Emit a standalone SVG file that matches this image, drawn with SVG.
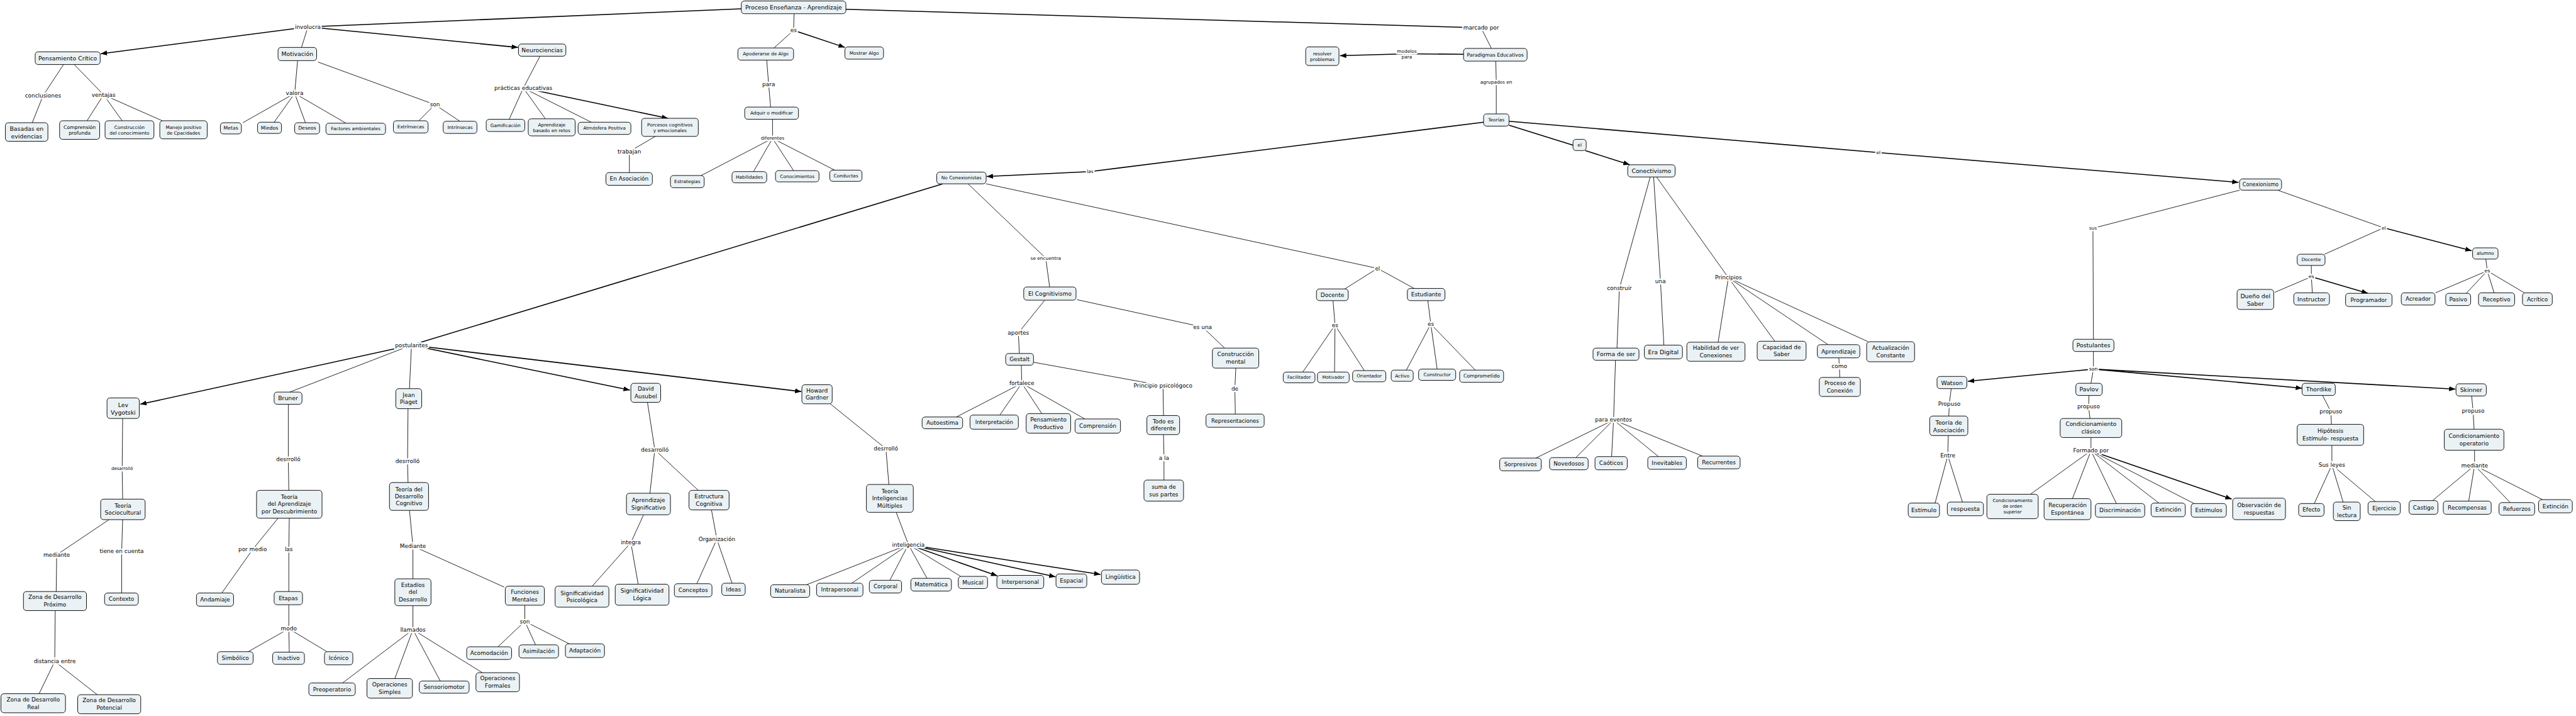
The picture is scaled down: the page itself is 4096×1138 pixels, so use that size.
<svg xmlns="http://www.w3.org/2000/svg" width="4096" height="1138" viewBox="0 0 4096 1138">
<defs>
<marker id="ah" markerUnits="userSpaceOnUse" markerWidth="13" markerHeight="10" viewBox="0 0 13 10" refX="13" refY="5" orient="auto"><path d="M0,0 L13,5 L0,10 z" fill="#000"/></marker>
<style>
.n rect{fill:#ebf2f5;stroke:#000;stroke-width:1.2}
text{font-family:"DejaVu Sans",Verdana,"Liberation Sans",sans-serif;fill:#000;text-anchor:middle;dominant-baseline:central}
tspan{dominant-baseline:central}
.l{paint-order:stroke;stroke:#fff;stroke-width:6;stroke-linejoin:round}
.c line{stroke:#000;stroke-width:1.1}
.c .k{stroke-width:2}
.c .a{marker-end:url(#ah)}
.s9{font-size:9px}.s93{font-size:9.3px}.s95{font-size:9.5px}.s10{font-size:10px}.s105{font-size:10.5px}.s11{font-size:11px}.s115{font-size:11.5px}.s12{font-size:12px}
</style>
</defs>
<rect width="4096" height="1138" fill="#fff"/>
<g transform="scale(0.777)">
<g id="connectors" class="c">
<line class="k" x1="1517" y1="18" x2="630" y2="55"/>
<line class="k a" x1="630" y1="55" x2="206" y2="110"/>
<line x1="628" y1="62" x2="617" y2="97"/>
<line class="k a" x1="630" y1="55" x2="1060" y2="97"/>
<line x1="130" y1="132" x2="88" y2="196"/>
<line x1="88" y1="196" x2="66" y2="251"/>
<line x1="152" y1="132" x2="212" y2="194"/>
<line x1="212" y1="194" x2="178" y2="247"/>
<line x1="212" y1="194" x2="250" y2="247"/>
<line x1="212" y1="194" x2="332" y2="247"/>
<line x1="609" y1="124" x2="603" y2="191"/>
<line x1="603" y1="191" x2="497" y2="251"/>
<line x1="603" y1="191" x2="561" y2="250"/>
<line x1="603" y1="191" x2="625" y2="251"/>
<line x1="603" y1="191" x2="708" y2="252"/>
<line x1="651" y1="127" x2="890" y2="214"/>
<line x1="890" y1="214" x2="857" y2="247"/>
<line x1="890" y1="214" x2="941" y2="248"/>
<line x1="1105" y1="115" x2="1071" y2="180"/>
<line x1="1071" y1="180" x2="1042" y2="244"/>
<line x1="1071" y1="180" x2="1116" y2="243"/>
<line x1="1071" y1="180" x2="1210" y2="250"/>
<line class="k a" x1="1071" y1="180" x2="1367" y2="242"/>
<line x1="1341" y1="279" x2="1288" y2="310"/>
<line x1="1288" y1="310" x2="1288" y2="353"/>
<line x1="1625" y1="28" x2="1624" y2="62"/>
<line x1="1624" y1="62" x2="1584" y2="98"/>
<line class="k a" x1="1624" y1="62" x2="1729" y2="97"/>
<line x1="1569" y1="123" x2="1573" y2="173"/>
<line x1="1573" y1="173" x2="1577" y2="219"/>
<line x1="1581" y1="244" x2="1581" y2="283"/>
<line x1="1581" y1="283" x2="1435" y2="359"/>
<line x1="1581" y1="283" x2="1542" y2="351"/>
<line x1="1581" y1="283" x2="1624" y2="349"/>
<line x1="1581" y1="283" x2="1708" y2="348"/>
<line class="k" x1="1731" y1="19" x2="3031" y2="57"/>
<line x1="3031" y1="57" x2="3052" y2="99"/>
<line class="k" x1="2995" y1="111" x2="2879" y2="110"/>
<line class="k a" x1="2879" y1="110" x2="2742" y2="114"/>
<line x1="3061" y1="125" x2="3062" y2="168"/>
<line x1="3062" y1="168" x2="3062" y2="233"/>
<line class="k" x1="3036" y1="250" x2="2231" y2="351"/>
<line class="k a" x1="2231" y1="351" x2="2019" y2="361"/>
<line class="k" x1="3088" y1="256" x2="3219" y2="297"/>
<line class="k a" x1="3244" y1="308" x2="3335" y2="337"/>
<line class="k" x1="3088" y1="248" x2="3844" y2="312"/>
<line class="k a" x1="3844" y1="312" x2="4581" y2="373"/>
<line x1="3377" y1="362" x2="3314" y2="590"/>
<line x1="3314" y1="590" x2="3309" y2="712"/>
<line x1="3384" y1="362" x2="3398" y2="575"/>
<line x1="3398" y1="575" x2="3405" y2="706"/>
<line x1="3390" y1="362" x2="3537" y2="568"/>
<line x1="3537" y1="568" x2="3516" y2="700"/>
<line x1="3537" y1="568" x2="3632" y2="698"/>
<line x1="3537" y1="568" x2="3741" y2="705"/>
<line x1="3537" y1="568" x2="3823" y2="699"/>
<line x1="3763" y1="732" x2="3764" y2="749"/>
<line x1="3764" y1="749" x2="3765" y2="772"/>
<line x1="3306" y1="737" x2="3302" y2="859"/>
<line x1="3302" y1="859" x2="3143" y2="937"/>
<line x1="3302" y1="859" x2="3225" y2="936"/>
<line x1="3302" y1="859" x2="3298" y2="934"/>
<line x1="3302" y1="859" x2="3394" y2="934"/>
<line x1="3302" y1="859" x2="3484" y2="933"/>
<line class="k" x1="1929" y1="376" x2="842" y2="706"/>
<line class="k a" x1="842" y1="706" x2="287" y2="827"/>
<line x1="842" y1="706" x2="593" y2="802"/>
<line x1="842" y1="706" x2="838" y2="795"/>
<line class="k a" x1="842" y1="706" x2="1289" y2="798"/>
<line class="k a" x1="842" y1="706" x2="1640" y2="801"/>
<line x1="251" y1="856" x2="250" y2="959"/>
<line x1="250" y1="959" x2="251" y2="1021"/>
<line x1="590" y1="827" x2="590" y2="939"/>
<line x1="590" y1="939" x2="591" y2="1003"/>
<line x1="835" y1="836" x2="834" y2="944"/>
<line x1="834" y1="944" x2="835" y2="987"/>
<line x1="1325" y1="823" x2="1340" y2="920"/>
<line x1="1340" y1="920" x2="1330" y2="1009"/>
<line x1="1340" y1="920" x2="1429" y2="1003"/>
<line x1="1699" y1="826" x2="1813" y2="918"/>
<line x1="1813" y1="918" x2="1819" y2="991"/>
<line x1="1981" y1="376" x2="2140" y2="528"/>
<line x1="2140" y1="528" x2="2148" y2="587"/>
<line x1="2138" y1="614" x2="2084" y2="681"/>
<line x1="2084" y1="681" x2="2086" y2="723"/>
<line x1="2204" y1="613" x2="2461" y2="669"/>
<line x1="2461" y1="669" x2="2506" y2="712"/>
<line x1="2090" y1="747" x2="2091" y2="784"/>
<line x1="2091" y1="784" x2="1957" y2="853"/>
<line x1="2091" y1="784" x2="2046" y2="849"/>
<line x1="2091" y1="784" x2="2132" y2="846"/>
<line x1="2091" y1="784" x2="2220" y2="857"/>
<line x1="2115" y1="741" x2="2380" y2="789"/>
<line x1="2380" y1="789" x2="2381" y2="850"/>
<line x1="2529" y1="753" x2="2527" y2="795"/>
<line x1="2527" y1="795" x2="2528" y2="847"/>
<line x1="2381" y1="889" x2="2382" y2="937"/>
<line x1="2382" y1="937" x2="2382" y2="982"/>
<line x1="2018" y1="376" x2="2819" y2="549"/>
<line x1="2819" y1="549" x2="2752" y2="591"/>
<line x1="2819" y1="549" x2="2894" y2="590"/>
<line x1="2728" y1="615" x2="2732" y2="665"/>
<line x1="2732" y1="665" x2="2666" y2="761"/>
<line x1="2732" y1="665" x2="2731" y2="761"/>
<line x1="2732" y1="665" x2="2792" y2="758"/>
<line x1="2922" y1="615" x2="2928" y2="663"/>
<line x1="2928" y1="663" x2="2878" y2="757"/>
<line x1="2928" y1="663" x2="2941" y2="755"/>
<line x1="2928" y1="663" x2="3019" y2="757"/>
<line x1="4583" y1="389" x2="4283" y2="467"/>
<line x1="4283" y1="467" x2="4284" y2="694"/>
<line x1="4661" y1="389" x2="4878" y2="466"/>
<line x1="4878" y1="466" x2="4757" y2="520"/>
<line class="k a" x1="4878" y1="466" x2="5058" y2="513"/>
<line x1="4730" y1="543" x2="4730" y2="566"/>
<line x1="4730" y1="566" x2="4655" y2="598"/>
<line x1="4730" y1="566" x2="4732" y2="599"/>
<line class="k a" x1="4730" y1="566" x2="4846" y2="600"/>
<line x1="5087" y1="530" x2="5090" y2="554"/>
<line x1="5090" y1="554" x2="4984" y2="599"/>
<line x1="5090" y1="554" x2="5047" y2="600"/>
<line x1="5090" y1="554" x2="5104" y2="599"/>
<line x1="5090" y1="554" x2="5166" y2="599"/>
<line x1="4284" y1="719" x2="4284" y2="755"/>
<line class="k a" x1="4284" y1="755" x2="4027" y2="780"/>
<line x1="4284" y1="755" x2="4279" y2="784"/>
<line class="k a" x1="4284" y1="755" x2="4711" y2="794"/>
<line class="k a" x1="4284" y1="755" x2="5025" y2="796"/>
<line x1="3993" y1="795" x2="3989" y2="826"/>
<line x1="3989" y1="826" x2="3988" y2="851"/>
<line x1="4275" y1="809" x2="4274" y2="832"/>
<line x1="4274" y1="832" x2="4277" y2="856"/>
<line x1="4753" y1="809" x2="4770" y2="842"/>
<line x1="4770" y1="842" x2="4771" y2="868"/>
<line x1="5058" y1="810" x2="5061" y2="841"/>
<line x1="5061" y1="841" x2="5063" y2="878"/>
<line x1="3987" y1="891" x2="3986" y2="932"/>
<line x1="3986" y1="932" x2="3960" y2="1029"/>
<line x1="3986" y1="932" x2="4016" y2="1027"/>
<line x1="4279" y1="895" x2="4279" y2="922"/>
<line x1="4279" y1="922" x2="4155" y2="1011"/>
<line x1="4279" y1="922" x2="4241" y2="1020"/>
<line x1="4279" y1="922" x2="4331" y2="1030"/>
<line x1="4279" y1="922" x2="4418" y2="1029"/>
<line x1="4279" y1="922" x2="4490" y2="1030"/>
<line class="k a" x1="4279" y1="922" x2="4567" y2="1021"/>
<line x1="4772" y1="911" x2="4772" y2="951"/>
<line x1="4772" y1="951" x2="4736" y2="1030"/>
<line x1="4772" y1="951" x2="4795" y2="1027"/>
<line x1="4772" y1="951" x2="4861" y2="1026"/>
<line x1="5064" y1="921" x2="5064" y2="952"/>
<line x1="5064" y1="952" x2="4978" y2="1024"/>
<line x1="5064" y1="952" x2="5052" y2="1025"/>
<line x1="5064" y1="952" x2="5137" y2="1028"/>
<line x1="5064" y1="952" x2="5203" y2="1022"/>
<line x1="223" y1="1063" x2="116" y2="1135"/>
<line x1="116" y1="1135" x2="115" y2="1210"/>
<line x1="251" y1="1063" x2="249" y2="1127"/>
<line x1="249" y1="1127" x2="249" y2="1213"/>
<line x1="113" y1="1249" x2="112" y2="1353"/>
<line x1="112" y1="1353" x2="80" y2="1419"/>
<line x1="112" y1="1353" x2="199" y2="1421"/>
<line x1="569" y1="1060" x2="517" y2="1124"/>
<line x1="517" y1="1124" x2="454" y2="1213"/>
<line x1="592" y1="1060" x2="591" y2="1124"/>
<line x1="591" y1="1124" x2="591" y2="1210"/>
<line x1="591" y1="1237" x2="591" y2="1286"/>
<line x1="591" y1="1286" x2="508" y2="1333"/>
<line x1="591" y1="1286" x2="592" y2="1334"/>
<line x1="591" y1="1286" x2="669" y2="1333"/>
<line x1="838" y1="1044" x2="845" y2="1117"/>
<line x1="845" y1="1117" x2="845" y2="1184"/>
<line x1="845" y1="1117" x2="1032" y2="1201"/>
<line x1="845" y1="1239" x2="845" y2="1288"/>
<line x1="845" y1="1288" x2="701" y2="1397"/>
<line x1="845" y1="1288" x2="808" y2="1388"/>
<line x1="845" y1="1288" x2="901" y2="1393"/>
<line x1="845" y1="1288" x2="987" y2="1376"/>
<line x1="1074" y1="1238" x2="1074" y2="1271"/>
<line x1="1074" y1="1271" x2="1019" y2="1323"/>
<line x1="1074" y1="1271" x2="1096" y2="1319"/>
<line x1="1074" y1="1271" x2="1165" y2="1317"/>
<line x1="1317" y1="1053" x2="1291" y2="1110"/>
<line x1="1291" y1="1110" x2="1212" y2="1199"/>
<line x1="1291" y1="1110" x2="1306" y2="1195"/>
<line x1="1456" y1="1043" x2="1467" y2="1103"/>
<line x1="1467" y1="1103" x2="1426" y2="1194"/>
<line x1="1467" y1="1103" x2="1498" y2="1193"/>
<line x1="1834" y1="1048" x2="1859" y2="1114"/>
<line x1="1859" y1="1114" x2="1651" y2="1196"/>
<line x1="1859" y1="1114" x2="1743" y2="1193"/>
<line x1="1859" y1="1114" x2="1821" y2="1187"/>
<line x1="1859" y1="1114" x2="1897" y2="1183"/>
<line x1="1859" y1="1114" x2="1966" y2="1179"/>
<line class="k a" x1="1859" y1="1114" x2="2041" y2="1178"/>
<line class="k a" x1="1859" y1="1114" x2="2160" y2="1180"/>
<line class="k a" x1="1859" y1="1114" x2="2252" y2="1175"/>
</g>
<g id="link-labels">
<text class="l s115" x="630" y="55">involucra</text>
<text class="l s115" x="1624" y="62">es</text>
<text class="l s115" x="3031" y="57">marcado por</text>
<text class="l s115" x="88" y="196">conclusiones</text>
<text class="l s115" x="212" y="194">ventajas</text>
<text class="l s115" x="603" y="191">valora</text>
<text class="l s115" x="890" y="214">son</text>
<text class="l s115" x="1071" y="180">prácticas educativas</text>
<text class="l s115" x="1288" y="310">trabajan</text>
<text class="l s115" x="1573" y="173">para</text>
<text class="l s95" x="1581" y="283">diferentes</text>
<text class="l s95" x="2231" y="351">las</text>
<text class="l s95" x="2879" y="110"><tspan x="2879" y="104">modelos</tspan><tspan x="2879" y="116">para</tspan></text>
<text class="l s95" x="3062" y="168">agrupados en</text>
<text class="l s95" x="3844" y="312">el</text>
<text class="l s95" x="4283" y="467">sus</text>
<text class="l s95" x="4878" y="466">el</text>
<text class="l s115" x="842" y="706">postulantes</text>
<text class="l s9" x="250" y="959">desarrolló</text>
<text class="l s115" x="590" y="939">desrrolló</text>
<text class="l s115" x="834" y="944">desrrolló</text>
<text class="l s115" x="1340" y="920">desarrolló</text>
<text class="l s115" x="1813" y="918">desrrolló</text>
<text class="l s95" x="2140" y="528">se encuentra</text>
<text class="l s115" x="2084" y="681">aportes</text>
<text class="l s115" x="2461" y="669">es una</text>
<text class="l s115" x="2091" y="784">fortalece</text>
<text class="l s115" x="2380" y="789">Principio psicológoco</text>
<text class="l s115" x="2527" y="795">de</text>
<text class="l s115" x="2382" y="937">a la</text>
<text class="l s11" x="2819" y="549">el</text>
<text class="l s115" x="2732" y="665">es</text>
<text class="l s115" x="2928" y="663">es</text>
<text class="l s115" x="3314" y="590">construir</text>
<text class="l s115" x="3398" y="575">una</text>
<text class="l s115" x="3537" y="568">Principios</text>
<text class="l s115" x="3764" y="749">como</text>
<text class="l s115" x="3302" y="859">para eventos</text>
<text class="l s10" x="4730" y="566">es</text>
<text class="l s10" x="5090" y="554">es</text>
<text class="l s10" x="4284" y="755">son</text>
<text class="l s115" x="3989" y="826">Propuso</text>
<text class="l s115" x="4274" y="832">propuso</text>
<text class="l s115" x="4770" y="842">propuso</text>
<text class="l s115" x="5061" y="841">propuso</text>
<text class="l s115" x="3986" y="932">Entre</text>
<text class="l s115" x="4279" y="922">Formado por</text>
<text class="l s115" x="4772" y="951">Sus leyes</text>
<text class="l s115" x="5064" y="952">mediante</text>
<text class="l s115" x="116" y="1135">mediante</text>
<text class="l s115" x="249" y="1127">tiene en cuenta</text>
<text class="l s115" x="517" y="1124">por medio</text>
<text class="l s115" x="591" y="1124">las</text>
<text class="l s115" x="845" y="1117">Mediante</text>
<text class="l s115" x="1291" y="1110">integra</text>
<text class="l s115" x="1467" y="1103">Organización</text>
<text class="l s115" x="1859" y="1114">inteligencia</text>
<text class="l s115" x="591" y="1286">modo</text>
<text class="l s115" x="845" y="1288">llamados</text>
<text class="l s115" x="1074" y="1271">son</text>
<text class="l s115" x="112" y="1353">distancia entre</text>
</g>
<g id="nodes">
<g id="n01" class="n"><rect x="1517" y="2" width="214" height="26" rx="6"/><text class="s12" x="1624" y="15">Proceso Enseñanza - Aprendizaje</text></g>
<g id="n02" class="n"><rect x="72" y="106" width="133" height="26" rx="6"/><text class="s12" x="138.5" y="119">Pensamiento Crítico</text></g>
<g id="n03" class="n"><rect x="569" y="97" width="79" height="27" rx="6"/><text class="s12" x="608.5" y="110.5">Motivación</text></g>
<g id="n04" class="n"><rect x="1061" y="90" width="97" height="25" rx="6"/><text class="s12" x="1109.5" y="102.5">Neurociencias</text></g>
<g id="n05" class="n"><rect x="11" y="251" width="87" height="38" rx="6"/><text class="s12"><tspan x="54.5" y="262.5">Basadas en</tspan><tspan x="54.5" y="277.5">evidencias</tspan></text></g>
<g id="n06" class="n"><rect x="122" y="247" width="82" height="38" rx="6"/><text class="s10"><tspan x="163" y="260">Comprensión</tspan><tspan x="163" y="272">profunda</tspan></text></g>
<g id="n07" class="n"><rect x="215" y="247" width="100" height="37" rx="6"/><text class="s95"><tspan x="265" y="259.5">Construcción</tspan><tspan x="265" y="271.5">del conocimiento</tspan></text></g>
<g id="n08" class="n"><rect x="327" y="247" width="97" height="37" rx="6"/><text class="s93"><tspan x="375.5" y="259.5">Manejo positivo</tspan><tspan x="375.5" y="271.5">de Cpacidades</tspan></text></g>
<g id="n09" class="n"><rect x="451" y="251" width="43" height="23" rx="6"/><text class="s10" x="472.5" y="262.5">Metas</text></g>
<g id="n10" class="n"><rect x="527" y="250" width="49" height="23" rx="6"/><text class="s10" x="551.5" y="261.5">Miedos</text></g>
<g id="n11" class="n"><rect x="603" y="251" width="51" height="23" rx="6"/><text class="s10" x="628.5" y="262.5">Deseos</text></g>
<g id="n12" class="n"><rect x="667" y="252" width="122" height="23" rx="6"/><text class="s95" x="728" y="263.5">Factores ambientales</text></g>
<g id="n13" class="n"><rect x="805" y="247" width="71" height="25" rx="6"/><text class="s95" x="840.5" y="259.5">Extrínsecas</text></g>
<g id="n14" class="n"><rect x="907" y="248" width="69" height="25" rx="6"/><text class="s95" x="941.5" y="260.5">Intrínsecas</text></g>
<g id="n15" class="n"><rect x="995" y="244" width="79" height="25" rx="6"/><text class="s95" x="1034.5" y="256.5">Gamificación</text></g>
<g id="n16" class="n"><rect x="1081" y="243" width="96" height="35" rx="6"/><text class="s95"><tspan x="1129" y="254.5">Aprendizaje</tspan><tspan x="1129" y="266.5">basado en retos</tspan></text></g>
<g id="n17" class="n"><rect x="1183" y="250" width="108" height="25" rx="6"/><text class="s93" x="1237" y="262.5">Atmósfera Positiva</text></g>
<g id="n18" class="n"><rect x="1313" y="242" width="116" height="37" rx="6"/><text class="s95"><tspan x="1371" y="254.5">Porcesos cognitivos</tspan><tspan x="1371" y="266.5">y emocionales</tspan></text></g>
<g id="n19" class="n"><rect x="1240" y="353" width="95" height="26" rx="6"/><text class="s115" x="1287.5" y="366">En Asociación</text></g>
<g id="n20" class="n"><rect x="1510" y="98" width="114" height="25" rx="6"/><text class="s95" x="1567" y="110.5">Apoderarse de Algo</text></g>
<g id="n21" class="n"><rect x="1729" y="96" width="79" height="25" rx="6"/><text class="s95" x="1768.5" y="108.5">Mostrar Algo</text></g>
<g id="n22" class="n"><rect x="1524" y="219" width="110" height="25" rx="6"/><text class="s95" x="1579" y="231.5">Adquir o modificar</text></g>
<g id="n23" class="n"><rect x="1372" y="359" width="69" height="25" rx="6"/><text class="s95" x="1406.5" y="371.5">Estrategias</text></g>
<g id="n24" class="n"><rect x="1498" y="351" width="71" height="23" rx="6"/><text class="s95" x="1533.5" y="362.5">Habilidades</text></g>
<g id="n25" class="n"><rect x="1587" y="349" width="89" height="23" rx="6"/><text class="s95" x="1631.5" y="360.5">Conocimientos</text></g>
<g id="n26" class="n"><rect x="1698" y="348" width="66" height="23" rx="6"/><text class="s95" x="1731" y="359.5">Conductas</text></g>
<g id="n27" class="n"><rect x="1917" y="352" width="101" height="24" rx="6"/><text class="s95" x="1967.5" y="364">No Conexionistas</text></g>
<g id="n28" class="n"><rect x="2995" y="99" width="130" height="26" rx="6"/><text class="s10" x="3060" y="112">Paradigmas Educativos</text></g>
<g id="n29" class="n"><rect x="2672" y="96" width="68" height="38" rx="6"/><text class="s95"><tspan x="2706" y="109">resolver</tspan><tspan x="2706" y="121">problemas</tspan></text></g>
<g id="n30" class="n"><rect x="3036" y="233" width="52" height="25" rx="6"/><text class="s95" x="3062" y="245.5">Teorías</text></g>
<g id="n31" class="n"><rect x="3219" y="285" width="27" height="23" rx="6"/><text class="s95" x="3232.5" y="296.5">el</text></g>
<g id="n32" class="n"><rect x="3331" y="337" width="97" height="25" rx="6"/><text class="s12" x="3379.5" y="349.5">Conectivismo</text></g>
<g id="n33" class="n"><rect x="4583" y="366" width="86" height="23" rx="6"/><text class="s105" x="4626" y="377.5">Conexionismo</text></g>
<g id="n34" class="n"><rect x="219" y="814" width="66" height="42" rx="6"/><text class="s12"><tspan x="252" y="827.5">Lev</tspan><tspan x="252" y="842.5">Vygotski</tspan></text></g>
<g id="n35" class="n"><rect x="561" y="802" width="57" height="25" rx="6"/><text class="s12" x="589.5" y="814.5">Bruner</text></g>
<g id="n36" class="n"><rect x="810" y="795" width="53" height="41" rx="6"/><text class="s115"><tspan x="836.5" y="808">Jean</tspan><tspan x="836.5" y="823">Piaget</tspan></text></g>
<g id="n37" class="n"><rect x="1291" y="784" width="61" height="39" rx="6"/><text class="s115"><tspan x="1321.5" y="796">David</tspan><tspan x="1321.5" y="811">Ausubel</tspan></text></g>
<g id="n38" class="n"><rect x="1641" y="787" width="62" height="39" rx="6"/><text class="s115"><tspan x="1672" y="799">Howard</tspan><tspan x="1672" y="814">Gardner</tspan></text></g>
<g id="n39" class="n"><rect x="2095" y="587" width="107" height="27" rx="6"/><text class="s115" x="2148.5" y="600.5">El Cognitivismo</text></g>
<g id="n40" class="n"><rect x="2058" y="723" width="57" height="24" rx="6"/><text class="s115" x="2086.5" y="735">Gestalt</text></g>
<g id="n41" class="n"><rect x="2481" y="712" width="95" height="41" rx="6"/><text class="s115"><tspan x="2528.5" y="725">Construcción</tspan><tspan x="2528.5" y="740">mental</tspan></text></g>
<g id="n42" class="n"><rect x="1887" y="853" width="83" height="24" rx="6"/><text class="s115" x="1928.5" y="865">Autoestima</text></g>
<g id="n43" class="n"><rect x="1985" y="849" width="99" height="29" rx="6"/><text class="s11" x="2034.5" y="863.5">Interpretación</text></g>
<g id="n44" class="n"><rect x="2100" y="846" width="91" height="40" rx="6"/><text class="s115"><tspan x="2145.5" y="858.5">Pensamiento</tspan><tspan x="2145.5" y="873.5">Productivo</tspan></text></g>
<g id="n45" class="n"><rect x="2200" y="857" width="93" height="29" rx="6"/><text class="s115" x="2246.5" y="871.5">Comprensión</text></g>
<g id="n46" class="n"><rect x="2347" y="850" width="67" height="39" rx="6"/><text class="s115"><tspan x="2380.5" y="862">Todo es</tspan><tspan x="2380.5" y="877">diferente</tspan></text></g>
<g id="n47" class="n"><rect x="2468" y="847" width="119" height="27" rx="6"/><text class="s11" x="2527.5" y="860.5">Representaciones</text></g>
<g id="n48" class="n"><rect x="2341" y="982" width="81" height="43" rx="6"/><text class="s115"><tspan x="2381.5" y="996">suma de</tspan><tspan x="2381.5" y="1011">sus partes</tspan></text></g>
<g id="n49" class="n"><rect x="2694" y="591" width="65" height="24" rx="6"/><text class="s115" x="2726.5" y="603">Docente</text></g>
<g id="n50" class="n"><rect x="2880" y="590" width="77" height="25" rx="6"/><text class="s115" x="2918.5" y="602.5">Estudiante</text></g>
<g id="n51" class="n"><rect x="2626" y="761" width="65" height="22" rx="6"/><text class="s93" x="2658.5" y="772">Facilitador</text></g>
<g id="n52" class="n"><rect x="2696" y="761" width="65" height="22" rx="6"/><text class="s9" x="2728.5" y="772">Motivador</text></g>
<g id="n53" class="n"><rect x="2768" y="758" width="68" height="23" rx="6"/><text class="s95" x="2802" y="769.5">Orientador</text></g>
<g id="n54" class="n"><rect x="2847" y="757" width="45" height="23" rx="6"/><text class="s95" x="2869.5" y="768.5">Activo</text></g>
<g id="n55" class="n"><rect x="2903" y="755" width="76" height="23" rx="6"/><text class="s95" x="2941" y="766.5">Constructor</text></g>
<g id="n56" class="n"><rect x="2987" y="757" width="90" height="25" rx="6"/><text class="s10" x="3032" y="769.5">Comprometido</text></g>
<g id="n57" class="n"><rect x="3260" y="712" width="94" height="25" rx="6"/><text class="s12" x="3307" y="724.5">Forma de ser</text></g>
<g id="n58" class="n"><rect x="3365" y="706" width="78" height="28" rx="6"/><text class="s12" x="3404" y="720">Era Digital</text></g>
<g id="n59" class="n"><rect x="3452" y="700" width="119" height="39" rx="6"/><text class="s115"><tspan x="3511.5" y="712">Habilidad de ver</tspan><tspan x="3511.5" y="727">Conexiones</tspan></text></g>
<g id="n60" class="n"><rect x="3596" y="698" width="100" height="39" rx="6"/><text class="s115"><tspan x="3646" y="710">Capacidad de</tspan><tspan x="3646" y="725">Saber</tspan></text></g>
<g id="n61" class="n"><rect x="3719" y="705" width="87" height="27" rx="6"/><text class="s12" x="3762.5" y="718.5">Aprendizaje</text></g>
<g id="n62" class="n"><rect x="3820" y="699" width="98" height="41" rx="6"/><text class="s115"><tspan x="3869" y="712">Actualización</tspan><tspan x="3869" y="727">Constante</tspan></text></g>
<g id="n63" class="n"><rect x="3723" y="772" width="84" height="39" rx="6"/><text class="s115"><tspan x="3765" y="784">Proceso de</tspan><tspan x="3765" y="799">Conexión</tspan></text></g>
<g id="n64" class="n"><rect x="3069" y="937" width="85" height="26" rx="6"/><text class="s115" x="3111.5" y="950">Sorpresivos</text></g>
<g id="n65" class="n"><rect x="3171" y="936" width="79" height="25" rx="6"/><text class="s115" x="3210.5" y="948.5">Novedosos</text></g>
<g id="n66" class="n"><rect x="3264" y="934" width="66" height="27" rx="6"/><text class="s115" x="3297" y="947.5">Caóticos</text></g>
<g id="n67" class="n"><rect x="3372" y="934" width="79" height="26" rx="6"/><text class="s115" x="3411.5" y="947">Inevitables</text></g>
<g id="n68" class="n"><rect x="3474" y="933" width="87" height="26" rx="6"/><text class="s115" x="3517.5" y="946">Recurrentes</text></g>
<g id="n69" class="n"><rect x="4701" y="520" width="57" height="23" rx="6"/><text class="s95" x="4729.5" y="531.5">Docente</text></g>
<g id="n70" class="n"><rect x="5060" y="507" width="52" height="23" rx="6"/><text class="s95" x="5086" y="518.5">alumno</text></g>
<g id="n71" class="n"><rect x="4578" y="592" width="75" height="41" rx="6"/><text class="s12"><tspan x="4615.5" y="605">Dueño del</tspan><tspan x="4615.5" y="620">Saber</tspan></text></g>
<g id="n72" class="n"><rect x="4694" y="599" width="73" height="25" rx="6"/><text class="s12" x="4730.5" y="611.5">Instructor</text></g>
<g id="n73" class="n"><rect x="4800" y="600" width="95" height="27" rx="6"/><text class="s115" x="4847.5" y="613.5">Programador</text></g>
<g id="n74" class="n"><rect x="4914" y="599" width="69" height="25" rx="6"/><text class="s115" x="4948.5" y="611.5">Acreador</text></g>
<g id="n75" class="n"><rect x="5005" y="600" width="51" height="25" rx="6"/><text class="s115" x="5030.5" y="612.5">Pasivo</text></g>
<g id="n76" class="n"><rect x="5072" y="599" width="74" height="27" rx="6"/><text class="s115" x="5109" y="612.5">Receptivo</text></g>
<g id="n77" class="n"><rect x="5162" y="599" width="61" height="26" rx="6"/><text class="s115" x="5192.5" y="612">Acrítico</text></g>
<g id="n78" class="n"><rect x="4242" y="694" width="84" height="25" rx="6"/><text class="s12" x="4284" y="706.5">Postulantes</text></g>
<g id="n79" class="n"><rect x="3964" y="770" width="61" height="25" rx="6"/><text class="s12" x="3994.5" y="782.5">Watson</text></g>
<g id="n80" class="n"><rect x="4248" y="784" width="54" height="25" rx="6"/><text class="s12" x="4275" y="796.5">Pavlov</text></g>
<g id="n81" class="n"><rect x="4711" y="784" width="68" height="25" rx="6"/><text class="s12" x="4745" y="796.5">Thordike</text></g>
<g id="n82" class="n"><rect x="5026" y="785" width="62" height="25" rx="6"/><text class="s12" x="5057" y="797.5">Skinner</text></g>
<g id="n83" class="n"><rect x="3949" y="851" width="78" height="40" rx="6"/><text class="s12"><tspan x="3988" y="863.5">Teoría de</tspan><tspan x="3988" y="878.5">Asociación</tspan></text></g>
<g id="n84" class="n"><rect x="4216" y="856" width="126" height="39" rx="6"/><text class="s115"><tspan x="4279" y="868">Condicionamiento</tspan><tspan x="4279" y="883">clásico</tspan></text></g>
<g id="n85" class="n"><rect x="4701" y="868" width="136" height="43" rx="6"/><text class="s115"><tspan x="4769" y="882">Hipótesis</tspan><tspan x="4769" y="897">Estímulo- respuesta</tspan></text></g>
<g id="n86" class="n"><rect x="5002" y="878" width="122" height="43" rx="6"/><text class="s115"><tspan x="5063" y="892">Condicionamiento</tspan><tspan x="5063" y="907">operatorio</tspan></text></g>
<g id="n87" class="n"><rect x="3905" y="1029" width="64" height="29" rx="6"/><text class="s12" x="3937" y="1043.5">Estímulo</text></g>
<g id="n88" class="n"><rect x="3985" y="1027" width="74" height="28" rx="6"/><text class="s12" x="4022" y="1041">respuesta</text></g>
<g id="n89" class="n"><rect x="4066" y="1011" width="105" height="50" rx="6"/><text class="s9"><tspan x="4118.5" y="1024.3">Condicionamiento</tspan><tspan x="4118.5" y="1036">de orden</tspan><tspan x="4118.5" y="1047.7">superior</tspan></text></g>
<g id="n90" class="n"><rect x="4183" y="1020" width="96" height="43" rx="6"/><text class="s115"><tspan x="4231" y="1034">Recuperación</tspan><tspan x="4231" y="1049">Espontánea</tspan></text></g>
<g id="n91" class="n"><rect x="4288" y="1030" width="101" height="28" rx="6"/><text class="s115" x="4338.5" y="1044">Discriminación</text></g>
<g id="n92" class="n"><rect x="4402" y="1029" width="70" height="28" rx="6"/><text class="s115" x="4437" y="1043">Extinción</text></g>
<g id="n93" class="n"><rect x="4484" y="1030" width="72" height="28" rx="6"/><text class="s115" x="4520" y="1044">Estímulos</text></g>
<g id="n94" class="n"><rect x="4569" y="1019" width="108" height="44" rx="6"/><text class="s115"><tspan x="4623" y="1033.5">Observación de</tspan><tspan x="4623" y="1048.5">respuestas</tspan></text></g>
<g id="n95" class="n"><rect x="4704" y="1030" width="52" height="26" rx="6"/><text class="s115" x="4730" y="1043">Efecto</text></g>
<g id="n96" class="n"><rect x="4775" y="1027" width="55" height="38" rx="6"/><text class="s115"><tspan x="4802.5" y="1038.5">Sin</tspan><tspan x="4802.5" y="1053.5">lectura</tspan></text></g>
<g id="n97" class="n"><rect x="4846" y="1026" width="66" height="27" rx="6"/><text class="s115" x="4879" y="1039.5">Ejercicio</text></g>
<g id="n98" class="n"><rect x="4930" y="1024" width="59" height="28" rx="6"/><text class="s115" x="4959.5" y="1038">Castigo</text></g>
<g id="n99" class="n"><rect x="5000" y="1025" width="98" height="27" rx="6"/><text class="s115" x="5049" y="1038.5">Recompensas</text></g>
<g id="n100" class="n"><rect x="5114" y="1028" width="73" height="26" rx="6"/><text class="s115" x="5150.5" y="1041">Refuerzos</text></g>
<g id="n101" class="n"><rect x="5195" y="1022" width="69" height="27" rx="6"/><text class="s115" x="5229.5" y="1035.5">Extinción</text></g>
<g id="n102" class="n"><rect x="206" y="1021" width="91" height="42" rx="6"/><text class="s115"><tspan x="251.5" y="1034.5">Teoría</tspan><tspan x="251.5" y="1049.5">Sociocultural</tspan></text></g>
<g id="n103" class="n"><rect x="525" y="1003" width="134" height="57" rx="6"/><text class="s115"><tspan x="592" y="1016.8">Teoría</tspan><tspan x="592" y="1031.5">del Aprendizaje</tspan><tspan x="592" y="1046.2">por Descubrimiento</tspan></text></g>
<g id="n104" class="n"><rect x="797" y="987" width="80" height="57" rx="6"/><text class="s115"><tspan x="837" y="1000.8">Teoría del</tspan><tspan x="837" y="1015.5">Desarrollo</tspan><tspan x="837" y="1030.2">Cognitivo</tspan></text></g>
<g id="n105" class="n"><rect x="1282" y="1009" width="90" height="44" rx="6"/><text class="s115"><tspan x="1327" y="1023.5">Aprendizaje</tspan><tspan x="1327" y="1038.5">Significativo</tspan></text></g>
<g id="n106" class="n"><rect x="1410" y="1003" width="82" height="40" rx="6"/><text class="s115"><tspan x="1451" y="1015.5">Estructura</tspan><tspan x="1451" y="1030.5">Cognitiva</tspan></text></g>
<g id="n107" class="n"><rect x="1773" y="991" width="96" height="57" rx="6"/><text class="s115"><tspan x="1821" y="1004.8">Teoría</tspan><tspan x="1821" y="1019.5">Inteligencias</tspan><tspan x="1821" y="1034.2">Múltiples</tspan></text></g>
<g id="n108" class="n"><rect x="48" y="1210" width="129" height="39" rx="6"/><text class="s115"><tspan x="112.5" y="1222">Zona de Desarrollo</tspan><tspan x="112.5" y="1237">Próximo</tspan></text></g>
<g id="n109" class="n"><rect x="214" y="1213" width="69" height="25" rx="6"/><text class="s115" x="248.5" y="1225.5">Contexto</text></g>
<g id="n110" class="n"><rect x="402" y="1213" width="76" height="27" rx="6"/><text class="s115" x="440" y="1226.5">Andamiaje</text></g>
<g id="n111" class="n"><rect x="561" y="1210" width="58" height="27" rx="6"/><text class="s115" x="590" y="1223.5">Etapas</text></g>
<g id="n112" class="n"><rect x="808" y="1184" width="74" height="55" rx="6"/><text class="s115"><tspan x="845" y="1196.8">Estadíos</tspan><tspan x="845" y="1211.5">del</tspan><tspan x="845" y="1226.2">Desarrollo</tspan></text></g>
<g id="n113" class="n"><rect x="1034" y="1199" width="80" height="39" rx="6"/><text class="s115"><tspan x="1074" y="1211">Funciones</tspan><tspan x="1074" y="1226">Mentales</tspan></text></g>
<g id="n114" class="n"><rect x="1136" y="1199" width="110" height="43" rx="6"/><text class="s115"><tspan x="1191" y="1213">Significatividad</tspan><tspan x="1191" y="1228">Psicológica</tspan></text></g>
<g id="n115" class="n"><rect x="1259" y="1195" width="110" height="43" rx="6"/><text class="s115"><tspan x="1314" y="1209">Significatividad</tspan><tspan x="1314" y="1224">Lógica</tspan></text></g>
<g id="n116" class="n"><rect x="445" y="1333" width="73" height="26" rx="6"/><text class="s115" x="481.5" y="1346">Simbólico</text></g>
<g id="n117" class="n"><rect x="558" y="1334" width="65" height="25" rx="6"/><text class="s115" x="590.5" y="1346.5">Inactivo</text></g>
<g id="n118" class="n"><rect x="664" y="1333" width="58" height="27" rx="6"/><text class="s115" x="693" y="1346.5">Icónico</text></g>
<g id="n119" class="n"><rect x="955" y="1323" width="92" height="26" rx="6"/><text class="s115" x="1001" y="1336">Acomodación</text></g>
<g id="n120" class="n"><rect x="1062" y="1319" width="81" height="27" rx="6"/><text class="s115" x="1102.5" y="1332.5">Asimilación</text></g>
<g id="n121" class="n"><rect x="1157" y="1317" width="80" height="28" rx="6"/><text class="s115" x="1197" y="1331">Adaptación</text></g>
<g id="n122" class="n"><rect x="632" y="1397" width="95" height="26" rx="6"/><text class="s115" x="679.5" y="1410">Preoperatorio</text></g>
<g id="n123" class="n"><rect x="751" y="1388" width="93" height="40" rx="6"/><text class="s115"><tspan x="797.5" y="1400.5">Operaciones</tspan><tspan x="797.5" y="1415.5">Simples</tspan></text></g>
<g id="n124" class="n"><rect x="858" y="1393" width="102" height="25" rx="6"/><text class="s115" x="909" y="1405.5">Sensoriomotor</text></g>
<g id="n125" class="n"><rect x="974" y="1376" width="89" height="39" rx="6"/><text class="s115"><tspan x="1018.5" y="1388">Operaciones</tspan><tspan x="1018.5" y="1403">Formales</tspan></text></g>
<g id="n126" class="n"><rect x="2" y="1419" width="132" height="39" rx="6"/><text class="s115"><tspan x="68" y="1431">Zona de Desarrollo</tspan><tspan x="68" y="1446">Real</tspan></text></g>
<g id="n127" class="n"><rect x="159" y="1421" width="129" height="39" rx="6"/><text class="s115"><tspan x="223.5" y="1433">Zona de Desarrollo</tspan><tspan x="223.5" y="1448">Potencial</tspan></text></g>
<g id="n128" class="n"><rect x="1380" y="1194" width="77" height="27" rx="6"/><text class="s115" x="1418.5" y="1207.5">Conceptos</text></g>
<g id="n129" class="n"><rect x="1477" y="1193" width="48" height="25" rx="6"/><text class="s115" x="1501" y="1205.5">Ideas</text></g>
<g id="n130" class="n"><rect x="1577" y="1196" width="80" height="26" rx="6"/><text class="s115" x="1617" y="1209">Naturalista</text></g>
<g id="n131" class="n"><rect x="1671" y="1193" width="95" height="27" rx="6"/><text class="s115" x="1718.5" y="1206.5">Intrapersonal</text></g>
<g id="n132" class="n"><rect x="1779" y="1187" width="66" height="26" rx="6"/><text class="s115" x="1812" y="1200">Corporal</text></g>
<g id="n133" class="n"><rect x="1864" y="1183" width="83" height="26" rx="6"/><text class="s115" x="1905.5" y="1196">Matemática</text></g>
<g id="n134" class="n"><rect x="1961" y="1179" width="60" height="25" rx="6"/><text class="s115" x="1991" y="1191.5">Musical</text></g>
<g id="n135" class="n"><rect x="2040" y="1177" width="96" height="27" rx="6"/><text class="s115" x="2088" y="1190.5">Interpersonal</text></g>
<g id="n136" class="n"><rect x="2161" y="1174" width="63" height="28" rx="6"/><text class="s115" x="2192.5" y="1188">Espacial</text></g>
<g id="n137" class="n"><rect x="2254" y="1166" width="78" height="29" rx="6"/><text class="s115" x="2293" y="1180.5">Lingüística</text></g>
</g>
</g>
</svg>
